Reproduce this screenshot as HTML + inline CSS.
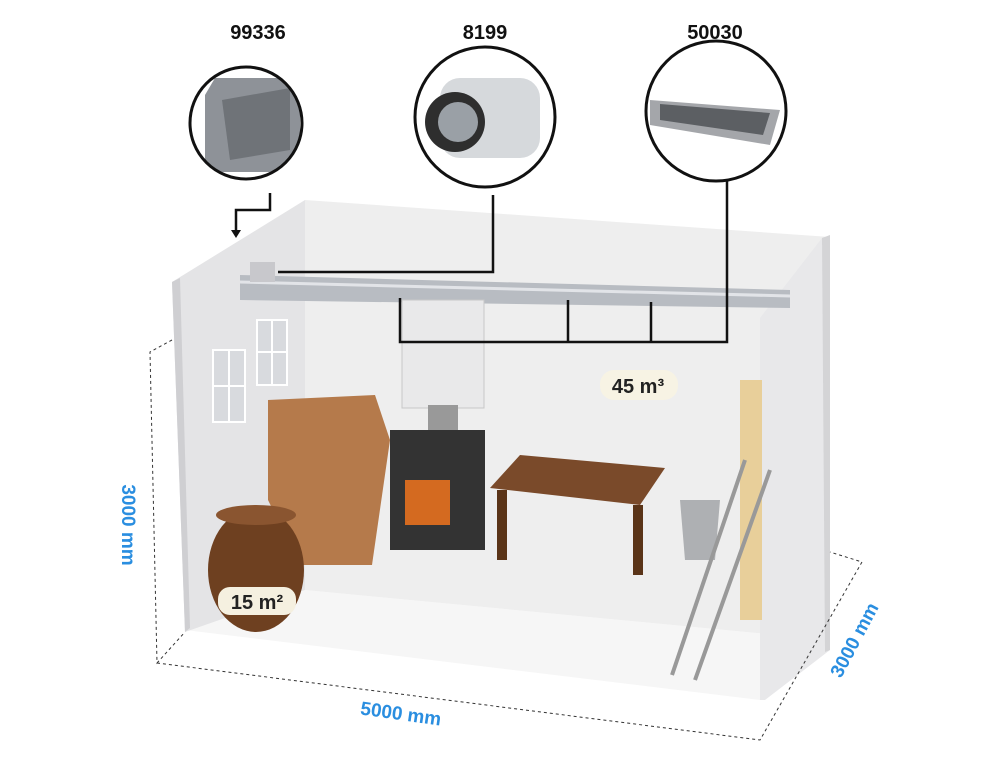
<!DOCTYPE html>
<html><head><meta charset="utf-8"><style>
body{margin:0;background:#fff;}
svg{display:block;font-family:"Liberation Sans",sans-serif;}
</style></head><body>
<svg width="1000" height="768" viewBox="0 0 1000 768" xmlns="http://www.w3.org/2000/svg">
<defs>
<clipPath id="c1"><circle cx="246" cy="123" r="55"/></clipPath>
<clipPath id="c2"><circle cx="485" cy="117" r="69"/></clipPath>
<clipPath id="c3"><circle cx="716" cy="111" r="69"/></clipPath>
</defs>
<!-- floor -->
<polygon points="185,630 305,590 830,640 760,700" fill="#f6f6f6"/>
<!-- back wall -->
<polygon points="305,200 830,237 830,640 305,590" fill="#eeeeee"/>
<!-- left wall -->
<polygon points="172,282 305,200 305,590 185,632" fill="#e4e4e6"/>
<polygon points="172,282 180,278 190,628 185,632" fill="#cfcfd2"/>
<!-- right wall -->
<polygon points="760,318 822,238 830,240 830,650 765,700 760,700" fill="#e8e8ea"/>
<polygon points="822,238 830,235 830,650 825,652" fill="#d4d4d6"/>
<!-- windows -->
<g fill="#d8dade" stroke="#fff" stroke-width="2">
<rect x="213" y="350" width="32" height="72"/><line x1="229" y1="350" x2="229" y2="422"/><line x1="213" y1="386" x2="245" y2="386"/>
<rect x="257" y="320" width="30" height="65"/><line x1="272" y1="320" x2="272" y2="385"/><line x1="257" y1="352" x2="287" y2="352"/>
</g>
<!-- duct -->
<polygon points="240,275 790,290 790,308 240,300" fill="#b8bcc2"/>
<line x1="240" y1="282" x2="790" y2="296" stroke="#e2e4e8" stroke-width="3"/>
<rect x="250" y="262" width="25" height="20" fill="#c8c8cc"/>
<!-- water heater -->
<rect x="402" y="300" width="82" height="108" fill="#e9e9ea" stroke="#c8c8c8"/>
<rect x="428" y="405" width="30" height="30" fill="#999"/>
<!-- firewood -->
<polygon points="268,400 375,395 390,440 372,565 300,565 268,500" fill="#b57a4b"/>
<!-- stove -->
<rect x="390" y="430" width="95" height="120" fill="#333"/>
<rect x="405" y="480" width="45" height="45" fill="#d46a20"/>
<!-- table -->
<polygon points="490,488 520,455 665,468 640,505" fill="#7a4a2a"/>
<rect x="497" y="490" width="10" height="70" fill="#5a3418"/>
<rect x="633" y="505" width="10" height="70" fill="#5a3418"/>
<!-- bucket -->
<polygon points="680,500 720,500 715,560 685,560" fill="#aeb0b3"/>
<!-- barrel -->
<ellipse cx="256" cy="570" rx="48" ry="62" fill="#6e4020"/>
<ellipse cx="256" cy="515" rx="40" ry="10" fill="#8a5530"/>
<rect x="218" y="587" width="78" height="28" rx="12" fill="#f5f0e0"/>
<text x="257" y="609" text-anchor="middle" font-size="20" font-weight="bold" fill="#222">15 m²</text>
<!-- shelves/ladder -->
<rect x="740" y="380" width="22" height="240" fill="#e8cf9a"/>
<line x1="672" y1="675" x2="745" y2="460" stroke="#999" stroke-width="4"/>
<line x1="695" y1="680" x2="770" y2="470" stroke="#999" stroke-width="4"/>
<!-- 45 m3 -->
<rect x="600" y="370" width="78" height="30" rx="14" fill="#f7f3e4"/>
<text x="638" y="393" text-anchor="middle" font-size="20" font-weight="bold" fill="#222">45 m³</text>
<!-- connector lines -->
<g stroke="#111" stroke-width="2.5" fill="none">
<polyline points="270,193 270,210 236,210 236,230"/>
<polyline points="493,195 493,272 278,272"/>
<polyline points="727,180 727,342 400,342 400,298"/>
<line x1="568" y1="300" x2="568" y2="342"/>
<line x1="651" y1="302" x2="651" y2="342"/>
</g>
<polygon points="231,230 241,230 236,238" fill="#111"/>
<!-- circles -->
<g fill="#fff">
<circle cx="246" cy="123" r="56"/>
<circle cx="485" cy="117" r="70"/>
<circle cx="716" cy="111" r="70"/>
</g>
<g clip-path="url(#c1)">
<polygon points="205,95 215,78 290,78 300,95 300,172 205,172" fill="#8e9298"/>
<polygon points="222,100 290,88 290,150 230,160" fill="#6f7378"/>
</g>
<g clip-path="url(#c2)">
<rect x="440" y="78" width="100" height="80" rx="20" fill="#d6d9dc"/>
<circle cx="455" cy="122" r="30" fill="#2e2e2e"/>
<circle cx="458" cy="122" r="20" fill="#9aa0a6"/>
</g>
<g clip-path="url(#c3)">
<polygon points="650,100 780,110 770,145 650,125" fill="#a4a6aa"/>
<polygon points="660,104 770,113 763,135 660,120" fill="#5c5f63"/>
</g>
<g stroke="#111" stroke-width="3" fill="none">
<circle cx="246" cy="123" r="56"/>
<circle cx="485" cy="117" r="70"/>
<circle cx="716" cy="111" r="70"/>
</g>
<text x="258" y="39" text-anchor="middle" font-size="20" font-weight="bold" fill="#111">99336</text>
<text x="485" y="39" text-anchor="middle" font-size="20" font-weight="bold" fill="#111">8199</text>
<text x="715" y="39" text-anchor="middle" font-size="20" font-weight="bold" fill="#111">50030</text>
<!-- dimension dashed lines -->
<g stroke="#333" stroke-width="1" stroke-dasharray="3,3" fill="none">
<polyline points="172,340 150,352 157,663 185,632"/>
<polyline points="157,663 760,740 862,562 830,552"/>
</g>
<g fill="#2a8ee0" font-size="19" font-weight="bold">
<text transform="translate(122,525) rotate(90)" text-anchor="middle">3000 mm</text>
<text transform="translate(400,720) rotate(8)" text-anchor="middle">5000 mm</text>
<text transform="translate(860,643) rotate(-62)" text-anchor="middle">3000 mm</text>
</g>
</svg>
</body></html>
